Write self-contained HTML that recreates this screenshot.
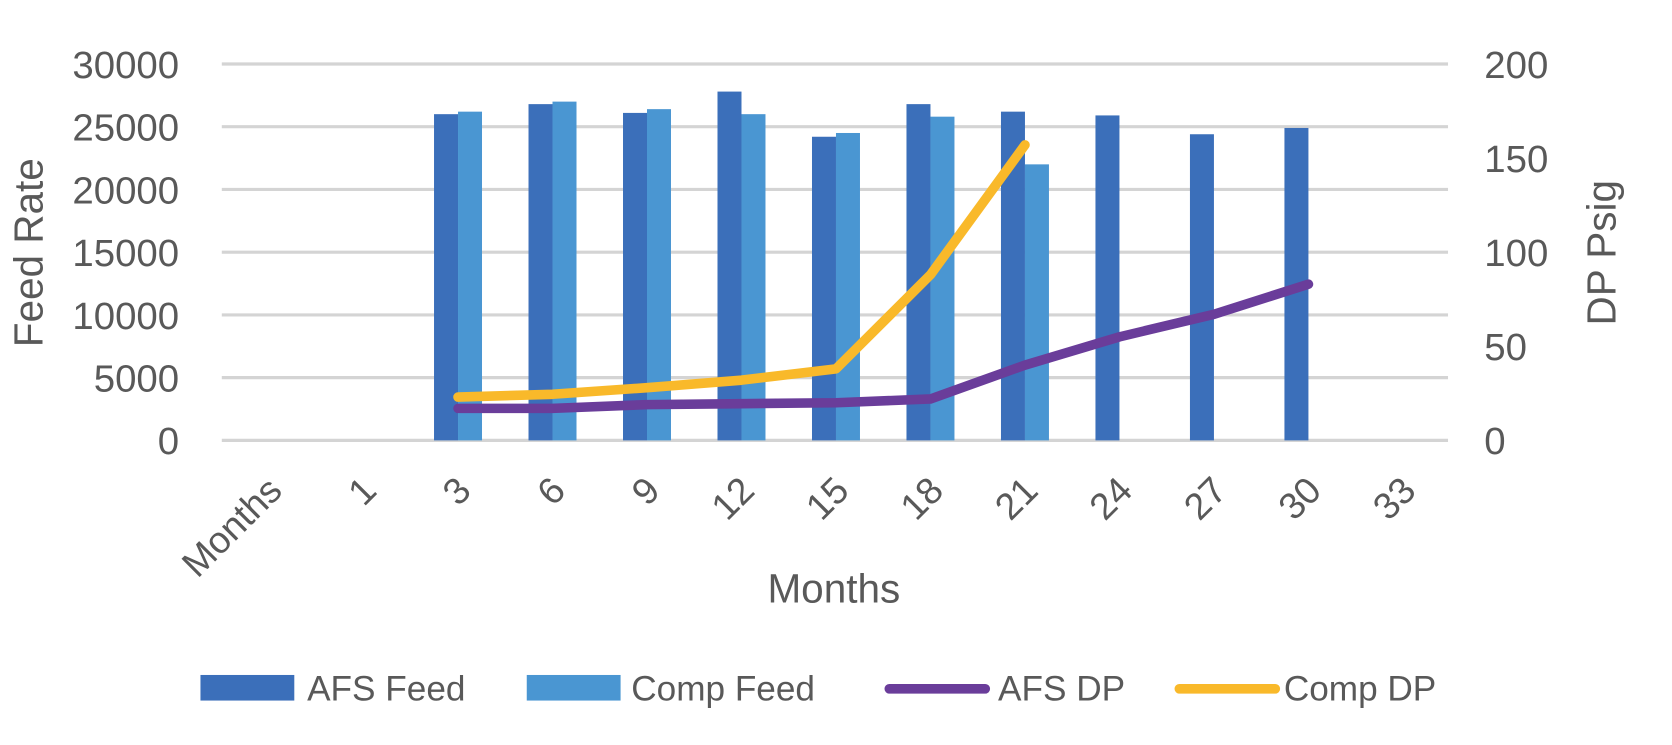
<!DOCTYPE html>
<html><head><meta charset="utf-8"><style>
body{margin:0;background:#fff;overflow:hidden;}
svg text{font-family:"Liberation Sans",sans-serif;fill:#595959;}
</style></head><body>
<svg width="1672" height="740" xmlns="http://www.w3.org/2000/svg">
<g transform="scale(1.0663)">
<g id="grid"></g><g id="bars"></g><g id="lines"></g><g id="labels"></g>
<text x="0" y="0" font-size="38" text-anchor="middle" transform="translate(40,237) rotate(-90)">Feed Rate</text>
<text x="0" y="0" font-size="38" text-anchor="middle" transform="translate(1515,237) rotate(-90)">DP Psig</text>
<text x="782" y="565" font-size="38" text-anchor="middle">Months</text>
<g>
<rect x="188" y="633" width="88" height="24" fill="#3b6fba"/>
<text x="288" y="657" font-size="33">AFS Feed</text>
<rect x="494" y="633" width="88" height="24" fill="#4a96d2"/>
<text x="592" y="657" font-size="33">Comp Feed</text>
<line x1="834" y1="646" x2="924" y2="646" stroke="#6a3d9a" stroke-width="9" stroke-linecap="round"/>
<text x="936" y="657" font-size="33">AFS DP</text>
<line x1="1106" y1="646" x2="1196" y2="646" stroke="#f9b92a" stroke-width="9" stroke-linecap="round"/>
<text x="1204" y="657" font-size="33">Comp DP</text>
</g>
</g>
</svg>
<script>
const categories=["Months","1","3","6","9","12","15","18","21","24","27","30","33"];
const afsFeed=[null,null,26000,26800,26100,27800,24200,26800,26200,25900,24400,24900,null];
const compFeed=[null,null,26200,27000,26400,26000,24500,25800,22000,null,null,null,null];
const afsDP=[null,null,17,17,19,19.5,20,22,40,55,67,83,null];
const compDP=[null,null,23,24.5,28,32,38,88,157,null,null,null,null];
const leftTicks=[0,5000,10000,15000,20000,25000,30000];
const rightTicks=[0,50,100,150,200];
const X0=208,X1=1360,Y0=413,Y1=60;
const cw=(X1-X0)/categories.length;
const yL=v=>Y0-(v/30000)*(Y0-Y1);
const yR=v=>Y0-(v/200)*(Y0-Y1);
const cx=i=>X0+(i+0.5)*cw;
const NS="http://www.w3.org/2000/svg";
function mk(t,a,p){const e=document.createElementNS(NS,t);for(const k in a)e.setAttribute(k,a[k]);p.appendChild(e);return e;}
const grid=document.getElementById('grid'),bars=document.getElementById('bars'),lines=document.getElementById('lines'),labels=document.getElementById('labels');
leftTicks.forEach(v=>{
 const l=mk('line',{x1:X0,x2:X1-2,y1:yL(v),y2:yL(v),stroke:'#d4d4d4','stroke-width':3},grid);
 
 
 const t=mk('text',{x:168,y:yL(v)+13,'font-size':36,'text-anchor':'end'},labels);t.textContent=v;
 
 
});
rightTicks.forEach(v=>{
 const t=mk('text',{x:1392,y:yR(v)+13,'font-size':36},labels);t.textContent=v;
 
 
});
const bw=22.5;
categories.forEach((c,i)=>{
 if(afsFeed[i]!=null){const r=mk('rect',{x:cx(i)-bw,y:yL(afsFeed[i]),width:bw,height:Y0-yL(afsFeed[i]),fill:'#3b6fba'},bars);
  
  }
 if(compFeed[i]!=null){const r=mk('rect',{x:cx(i),y:yL(compFeed[i]),width:bw,height:Y0-yL(compFeed[i]),fill:'#4a96d2'},bars);
  
  }
 const t=mk('text',{x:0,y:0,'font-size':35,'text-anchor':'end',transform:`translate(${cx(i)+14},${462}) rotate(-45)`},labels);t.textContent=c;
 
 
});
function line(arr,col,name){
 const pts=[];arr.forEach((v,i)=>{if(v!=null)pts.push(cx(i)+','+yR(v));});
 const p=mk('polyline',{points:pts.join(' '),fill:'none',stroke:col,'stroke-width':9,'stroke-linejoin':'round','stroke-linecap':'round'},lines);
 
 
}
line(afsDP,'#6a3d9a','afs-dp-line');
line(compDP,'#f9b92a','comp-dp-line');
</script>
</body></html>
